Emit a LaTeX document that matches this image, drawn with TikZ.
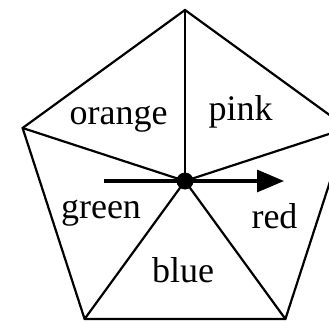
\documentclass[tikz,border=0pt]{standalone}
\usepackage{fontspec}
\setmainfont{Liberation Serif}
\usetikzlibrary{arrows.meta}
\begin{document}
\begin{tikzpicture}[x=1pt,y=-1pt,
  edge/.style={line width=2.2pt,line join=miter},
  lbl/.style={anchor=base,inner sep=0pt,font=\fontsize{36}{40}\selectfont}]
\useasboundingbox (0,0) rectangle (329,321);
\clip (0,0) rectangle (329,321);
\coordinate (c) at (185,181);
\coordinate (t) at (185,10);
\coordinate (l) at (22.6,128);
\coordinate (r) at (347.4,128);
\coordinate (bl) at (84.6,319);
\coordinate (br) at (285.4,319);
\draw[edge] (t) -- (r) -- (br) -- (bl) -- (l) -- cycle;
\foreach \v in {t,r,br,bl,l} \draw[edge] (c) -- (\v);
\coordinate (as) at (104,181);
\coordinate (ae) at (284,181);
\draw[line width=3.2pt,-{Triangle[length=27pt,width=22pt]}] (as) -- (ae);
\fill (c) circle (8.5);
\node[lbl] (orange) at (118.5,124) {orange};
\node[lbl] (pink) at (240.5,120) {pink};
\node[lbl] (green) at (101,218) {green};
\node[lbl] (red) at (274.5,228) {red};
\node[lbl] (blue) at (183,282) {blue};
\end{tikzpicture}
\end{document}
